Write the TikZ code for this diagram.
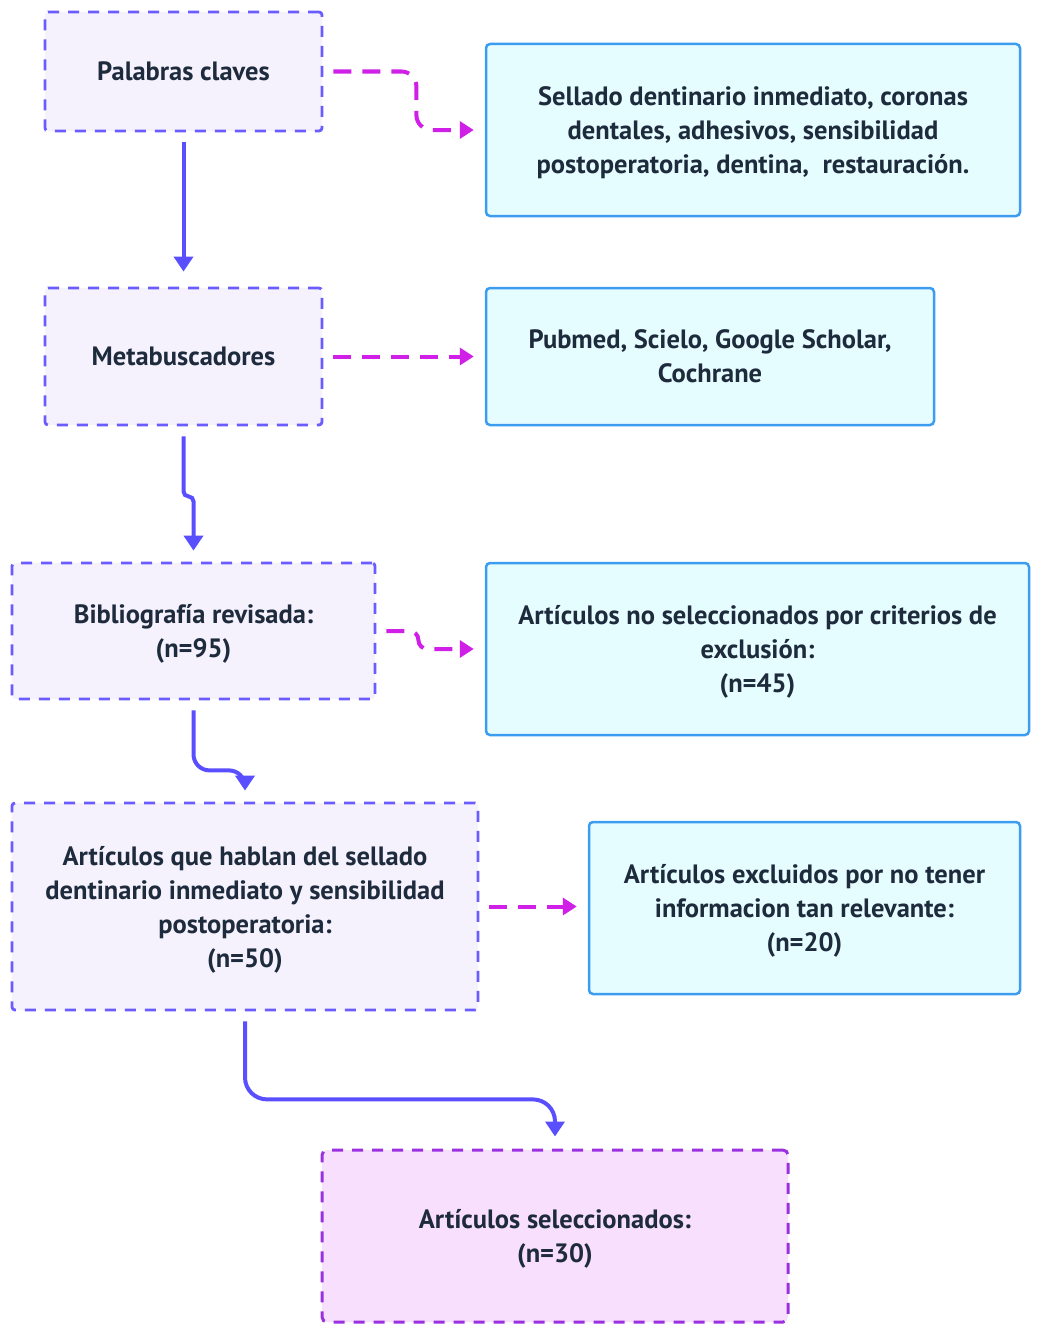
\documentclass[tikz,border=0pt]{standalone}
\usepackage{fontspec}
\setmainfont{PT Sans}
\usetikzlibrary{positioning, arrows.meta}
\definecolor{ink}{HTML}{1E2B3C}
\definecolor{stepfill}{HTML}{F5F2FE}
\definecolor{stepline}{HTML}{6A5CFF}
\definecolor{infofill}{HTML}{E6FDFF}
\definecolor{infoline}{HTML}{3C9CF0}
\definecolor{endfill}{HTML}{F8DFFD}
\definecolor{endline}{HTML}{9B30E0}
\definecolor{flowblue}{HTML}{5A4FFF}
\definecolor{sidepink}{HTML}{D020E8}
\tikzset{
x=1pt, y=-1pt, % y grows downwards, like the picture
every node/.style={font=\bfseries\fontsize{26.5}{34}\selectfont, text=ink, align=center, inner sep=0pt, text depth=0pt},
stepbox/.style={draw=stepline, fill=stepfill, line width=2.8pt, dash pattern=on 11pt off 9pt, rounded corners=3pt},
infobox/.style={draw=infoline, fill=infofill, line width=2.5pt, rounded corners=4pt},
endbox/.style={draw=endline, fill=endfill, line width=3pt, dash pattern=on 11pt off 9pt, rounded corners=5pt},
flow/.style={draw=flowblue, line width=4pt, -{Triangle[length=15pt, width=19pt]}},
side/.style={draw=sidepink, line width=4pt, dash pattern=on 18pt off 11pt, -{Triangle[length=14pt, width=17pt]}},
}

\begin{document}
\begin{tikzpicture}
    \useasboundingbox (0,0) rectangle (1041,1330);

    \node[stepbox, minimum width=277pt, minimum height=119pt] (palabras) at (183.5,71.5) {Palabras claves};
    \node[infobox, minimum width=534pt, minimum height=172pt] (sellado) at (753,130) {Sellado dentinario inmediato, coronas\\ dentales, adhesivos, sensibilidad\\ postoperatoria, dentina,\ \ restauración.};
    \node[stepbox, minimum width=277pt, minimum height=137pt] (meta) at (183.5,356.5) {Metabuscadores};
    \node[infobox, minimum width=448pt, minimum height=137pt] (pubmed) at (710,356.5) {Pubmed, Scielo, Google Scholar,\\ Cochrane};
    \node[stepbox, minimum width=363pt, minimum height=136pt] (biblio) at (193.5,631) {Bibliografía revisada:\\ (n=95)};
    \node[infobox, minimum width=543pt, minimum height=172pt] (noselec) at (757.5,649) {Artículos no seleccionados por criterios de\\ exclusión:\\ (n=45)};
    \node[stepbox, minimum width=466pt, minimum height=207pt] (hablan) at (245,906.5) {Artículos que hablan del sellado\\ dentinario inmediato y sensibilidad\\ postoperatoria:\\ (n=50)};
    \node[infobox, minimum width=431pt, minimum height=172pt] (excluidos) at (804.5,908) {Artículos excluidos por no tener\\ informacion tan relevante:\\ (n=20)};
    \node[endbox, minimum width=466pt, minimum height=172pt] (selec) at (555,1236) {Artículos seleccionados:\\ (n=30)};

    % main flow
    \draw[flow] ([yshift=-10pt]palabras.south) -- ([yshift=15pt]meta.north);
    \draw[flow, rounded corners=5pt] ([yshift=-10pt]meta.south) -- ++(0,60) -| ([yshift=11pt]biblio.north);
    \draw[flow, rounded corners=16pt] ([yshift=-10pt]biblio.south) -- ++(0,60) -| ([yshift=11pt]hablan.north);
    \draw[flow, rounded corners=22pt] ([yshift=-10pt]hablan.south) -- ++(0,78) -| ([yshift=12pt]selec.north);

    % side branches
    \draw[side, rounded corners=15pt] ([xshift=10pt]palabras.east) -- ++(83,0) |- ([xshift=-11pt]sellado.west);
    \draw[side] ([xshift=10pt]meta.east) -- ([xshift=-11pt]pubmed.west);
    \draw[side, rounded corners=9pt] ([xshift=10pt]biblio.east) -- ++(32,0) |- ([xshift=-11pt]noselec.west);
    \draw[side] ([xshift=10pt]hablan.east) -- ([xshift=-11pt]excluidos.west |- hablan.east);
\end{tikzpicture}
\end{document}
